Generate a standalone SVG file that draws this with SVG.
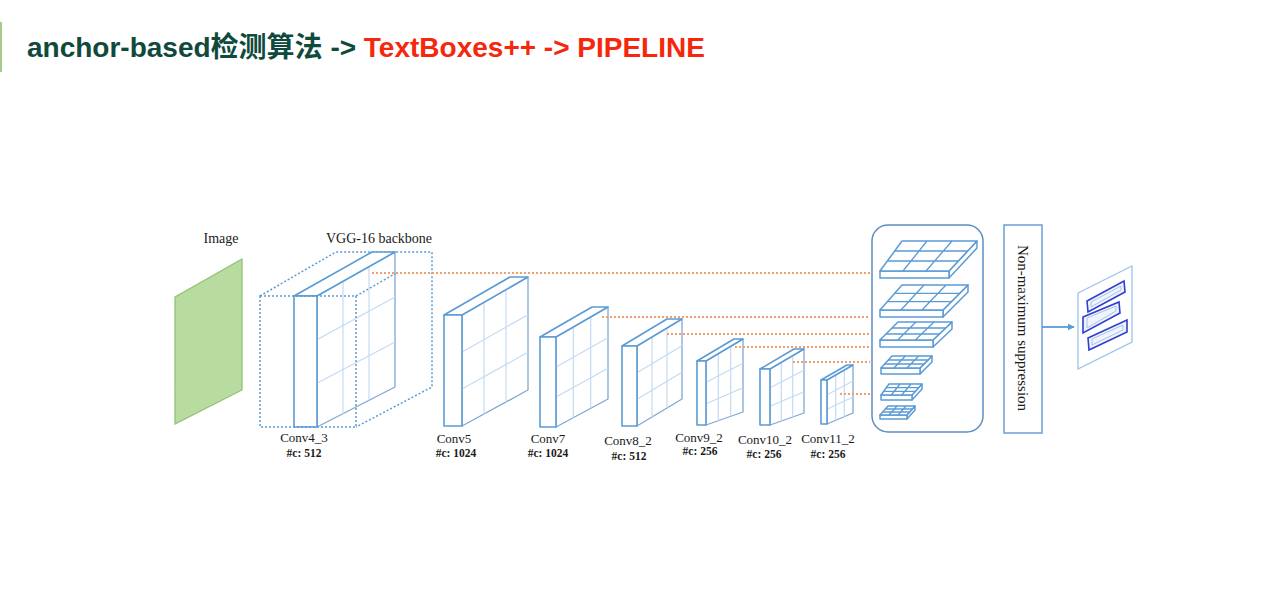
<svg xmlns="http://www.w3.org/2000/svg" width="1277" height="611" viewBox="0 0 1277 611">
<defs>
<style>
.ttl{font-family:"Liberation Sans","Noto Sans CJK SC",Arial,sans-serif;font-weight:bold;font-size:28px}
.lbl{font-family:"Liberation Serif","Times New Roman",serif;fill:#1a1a1a}
.edge{fill:#fff;stroke:#5b9bd5;stroke-width:1.6;stroke-linejoin:round}
.side{fill:#fff;stroke:#7fa7d4;stroke-width:1.3;stroke-linejoin:round}
.grid{stroke:#c3dbf3;stroke-width:1.2;fill:none}
.dot{fill:none;stroke:#5b9bd5;stroke-width:1.5;stroke-dasharray:2 2}
.org{stroke:#f0a06a;stroke-width:2;stroke-dasharray:2 2;fill:none}
.slab{fill:#fff;stroke:#5b9bd5;stroke-width:1.5;stroke-linejoin:round}
.sg{stroke:#5b9bd5;stroke-width:1.3;fill:none}
.tb{fill:#eef3fc;stroke:#2f3fd0;stroke-width:1.6}
.tbi{fill:none;stroke:#a9c3ec;stroke-width:1}
</style>
<marker id="arr" viewBox="0 0 10 10" refX="9" refY="5" markerWidth="7" markerHeight="7" orient="auto" markerUnits="userSpaceOnUse">
<path d="M0,0 L10,5 L0,10 z" fill="#5b9bd5"/>
</marker>
</defs>
<rect width="1277" height="611" fill="#fff"/>
<g id="title">
<line x1="1" y1="22" x2="1" y2="72" stroke="#a9c98a" stroke-width="2"/>
<text class="ttl" x="27" y="57"><tspan fill="#0f4a3c">anchor-based检测算法 -&gt; </tspan><tspan fill="#f5270d">TextBoxes++ -&gt; PIPELINE</tspan></text>
</g>
<g id="image">
<polygon points="175,297 242,259 242,390 175,424" fill="#b8dca0" stroke="#8fbf70" stroke-width="1.2"/>
<text class="lbl" x="221" y="243" font-size="14" text-anchor="middle">Image</text>
</g>
<g id="conv4_3">
<text class="lbl" x="379" y="243" font-size="14" text-anchor="middle">VGG-16 backbone</text>
<polyline class="dot" points="260,296 336,252 432,252 432,387 356,427"/>
<polygon class="side" points="317,296 395,252 395,387 317,427"/>
<line class="grid" x1="343" y1="281.3" x2="343" y2="413.7"/>
<line class="grid" x1="369" y1="266.7" x2="369" y2="400.3"/>
<line class="grid" x1="317" y1="339.7" x2="395" y2="297"/>
<line class="grid" x1="317" y1="383.3" x2="395" y2="342"/>
<polygon class="edge" points="294,296 372,252 395,252 317,296"/>
<rect class="edge" x="294" y="296" width="23" height="131"/>
<rect class="dot" x="260" y="296" width="96" height="131"/>
<line class="dot" x1="356" y1="296" x2="395" y2="273.8"/>
<text class="lbl" x="304" y="442" font-size="13" text-anchor="middle">Conv4_3</text>
<text class="lbl" x="304" y="457" font-size="11.5" text-anchor="middle" font-weight="bold">#c: 512</text>
</g>
<g id="conv5">
<polygon class="side" points="462,315 528,277 528,390 462,426"/>
<line class="grid" x1="484" y1="302.3" x2="484" y2="414"/>
<line class="grid" x1="506" y1="289.7" x2="506" y2="402"/>
<line class="grid" x1="462" y1="352" x2="528" y2="314.7"/>
<line class="grid" x1="462" y1="389" x2="528" y2="352.3"/>
<polygon class="edge" points="444,315 510,277 528,277 462,315"/>
<rect class="edge" x="444" y="315" width="18" height="111"/>
<text class="lbl" x="454" y="443" font-size="13" text-anchor="middle">Conv5</text>
<text class="lbl" x="456" y="457" font-size="11.5" text-anchor="middle" font-weight="bold">#c: 1024</text>
</g>
<g id="conv7">
<polygon class="side" points="556,337 608,307 608,399 556,427"/>
<line class="grid" x1="573.3" y1="327" x2="573.3" y2="417.7"/>
<line class="grid" x1="590.7" y1="317" x2="590.7" y2="408.3"/>
<line class="grid" x1="556" y1="367" x2="608" y2="337.7"/>
<line class="grid" x1="556" y1="397" x2="608" y2="368.3"/>
<polygon class="edge" points="540,337 592,307 608,307 556,337"/>
<rect class="edge" x="540" y="337" width="16" height="90"/>
<text class="lbl" x="548" y="443" font-size="13" text-anchor="middle">Conv7</text>
<text class="lbl" x="548" y="457" font-size="11.5" text-anchor="middle" font-weight="bold">#c: 1024</text>
</g>
<g id="conv8_2">
<polygon class="side" points="637,346 682,319 682,399 637,426"/>
<line class="grid" x1="652" y1="337" x2="652" y2="417"/>
<line class="grid" x1="667" y1="328" x2="667" y2="408"/>
<line class="grid" x1="637" y1="372.7" x2="682" y2="345.7"/>
<line class="grid" x1="637" y1="399.3" x2="682" y2="372.3"/>
<polygon class="edge" points="622,346 667,319 682,319 637,346"/>
<rect class="edge" x="622" y="346" width="15" height="80"/>
<text class="lbl" x="628" y="445" font-size="13" text-anchor="middle">Conv8_2</text>
<text class="lbl" x="629" y="460" font-size="11.5" text-anchor="middle" font-weight="bold">#c: 512</text>
</g>
<g id="conv9_2">
<polygon class="side" points="706,361 743,339 743,412 706,425"/>
<line class="grid" x1="718.3" y1="353.7" x2="718.3" y2="420.7"/>
<line class="grid" x1="730.7" y1="346.3" x2="730.7" y2="416.3"/>
<line class="grid" x1="706" y1="382.3" x2="743" y2="363.3"/>
<line class="grid" x1="706" y1="403.7" x2="743" y2="387.7"/>
<polygon class="edge" points="697,361 734,339 743,339 706,361"/>
<rect class="edge" x="697" y="361" width="9" height="64"/>
<text class="lbl" x="699" y="442" font-size="13" text-anchor="middle">Conv9_2</text>
<text class="lbl" x="700" y="455" font-size="11.5" text-anchor="middle" font-weight="bold">#c: 256</text>
</g>
<g id="conv10_2">
<polygon class="side" points="770,369 804,349 804,413 770,425"/>
<line class="grid" x1="781.3" y1="362.3" x2="781.3" y2="421"/>
<line class="grid" x1="792.7" y1="355.7" x2="792.7" y2="417"/>
<line class="grid" x1="770" y1="387.7" x2="804" y2="370.3"/>
<line class="grid" x1="770" y1="406.3" x2="804" y2="391.7"/>
<polygon class="edge" points="760,369 794,349 804,349 770,369"/>
<rect class="edge" x="760" y="369" width="10" height="56"/>
<text class="lbl" x="765" y="444" font-size="13" text-anchor="middle">Conv10_2</text>
<text class="lbl" x="764" y="458" font-size="11.5" text-anchor="middle" font-weight="bold">#c: 256</text>
</g>
<g id="conv11_2">
<polygon class="side" points="827,380 853,365 853,413 827,424"/>
<line class="grid" x1="835.7" y1="375" x2="835.7" y2="420.3"/>
<line class="grid" x1="844.3" y1="370" x2="844.3" y2="416.7"/>
<line class="grid" x1="827" y1="394.7" x2="853" y2="381"/>
<line class="grid" x1="827" y1="409.3" x2="853" y2="397"/>
<polygon class="edge" points="821,380 847,365 853,365 827,380"/>
<rect class="edge" x="821" y="380" width="6" height="44"/>
<text class="lbl" x="828" y="443" font-size="13" text-anchor="middle">Conv11_2</text>
<text class="lbl" x="828" y="458" font-size="11.5" text-anchor="middle" font-weight="bold">#c: 256</text>
</g>
<g id="detectors">
<rect x="872" y="225" width="111" height="207" rx="16" fill="#fff" stroke="#5f8fc0" stroke-width="1.5"/>
<g id="slab1">
<polygon class="slab" points="949,271 977,241 977,248 949,278"/>
<rect class="slab" x="880" y="271" width="69" height="7"/>
<polygon class="slab" points="880,271 949,271 977,241 902,241"/>
<path class="sg" d="M887.3,261 L958.3,261 M894.7,251 L967.7,251 M903,271 L927,241 M926,271 L952,241"/>
</g>
<g id="slab2">
<polygon class="slab" points="943,310 968,285 968,292 943,317"/>
<rect class="slab" x="880" y="310" width="63" height="7"/>
<polygon class="slab" points="880,310 943,310 968,285 902,285"/>
<path class="sg" d="M887.3,301.7 L951.3,301.7 M894.7,293.3 L959.7,293.3 M901,310 L924,285 M922,310 L946,285"/>
</g>
<g id="slab3">
<polygon class="slab" points="933,340 952,322 952,329 933,347"/>
<rect class="slab" x="880" y="340" width="53" height="7"/>
<polygon class="slab" points="880,340 933,340 952,322 898,322"/>
<path class="sg" d="M886,334 L939.3,334 M892,328 L945.7,328 M897.7,340 L916,322 M915.3,340 L934,322"/>
</g>
<g id="slab4">
<polygon class="slab" points="920,368 932,356 932,362 920,374"/>
<rect class="slab" x="881" y="368" width="39" height="6"/>
<polygon class="slab" points="881,368 920,368 932,356 892,356"/>
<path class="sg" d="M884.7,364 L924,364 M888.3,360 L928,360 M894,368 L905.3,356 M907,368 L918.7,356"/>
</g>
<g id="slab5">
<polygon class="slab" points="912,395 922,384 922,389 912,400"/>
<rect class="slab" x="881" y="395" width="31" height="5"/>
<polygon class="slab" points="881,395 912,395 922,384 889,384"/>
<path class="sg" d="M883.7,391.3 L915.3,391.3 M886.3,387.7 L918.7,387.7 M891.3,395 L900,384 M901.7,395 L911,384"/>
</g>
<g id="slab6">
<polygon class="slab" points="907,415 915,406 915,410 907,419"/>
<rect class="slab" x="880" y="415" width="27" height="4"/>
<polygon class="slab" points="880,415 907,415 915,406 888,406"/>
<path class="sg" d="M882.7,412 L909.7,412 M885.3,409 L912.3,409 M889,415 L897,406 M898,415 L906,406"/>
</g>
</g>
<g id="nms">
<rect x="1004" y="225" width="38" height="208" fill="#fff" stroke="#6a9fd6" stroke-width="1.5"/>
<text class="lbl" transform="translate(1018,328) rotate(90)" font-size="15" text-anchor="middle">Non-maximum suppression</text>
</g>
<g id="output">
<polygon points="1078,293 1132,266 1132,342 1078,369" fill="#fff" stroke="#9cc3e8" stroke-width="1.3"/>
<polygon class="tb" points="1087,301 1124,281 1125,292 1088,312"/>
<polygon class="tbi" points="1091,302 1121,286 1121,290 1091,307"/>
<polygon class="tb" points="1083,317 1119,302 1120,313 1083,333"/>
<polygon class="tbi" points="1087,318 1116,306 1116,311 1087,328"/>
<polygon class="tb" points="1088,338 1127,320 1127,332 1089,350"/>
<polygon class="tbi" points="1092,339 1123,325 1123,330 1092,345"/>
</g>
<g id="connectors">
<line class="org" x1="372" y1="273" x2="870" y2="273"/>
<line class="org" x1="602" y1="317" x2="870" y2="317"/>
<line class="org" x1="667" y1="334" x2="870" y2="334"/>
<line class="org" x1="735" y1="347" x2="870" y2="347"/>
<line class="org" x1="793" y1="362" x2="870" y2="362"/>
<line class="org" x1="840" y1="394" x2="870" y2="394"/>
<line x1="1042" y1="327" x2="1074" y2="327" stroke="#5b9bd5" stroke-width="1.8" marker-end="url(#arr)"/>
</g>
</svg>
